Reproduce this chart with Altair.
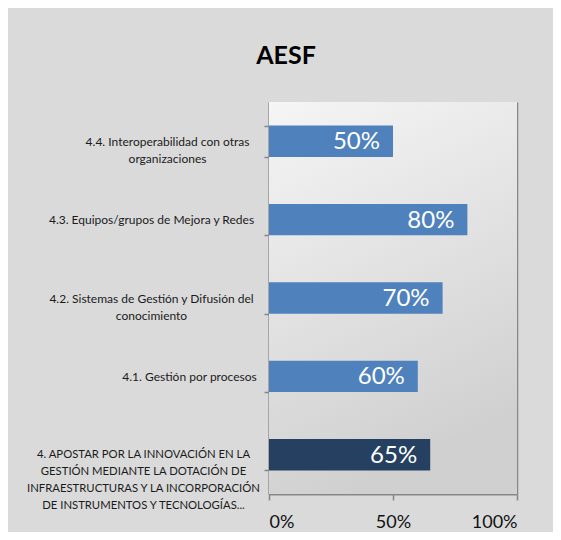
import altair as alt
import pandas as pd

categories = [
    "4.4. Interoperabilidad con otras|organizaciones",
    "4.3. Equipos/grupos de Mejora y Redes",
    "4.2. Sistemas de Gestión y Difusión del|conocimiento",
    "4.1. Gestión por procesos",
    "4. APOSTAR POR LA INNOVACIÓN EN LA|GESTIÓN MEDIANTE LA DOTACIÓN DE|INFRAESTRUCTURAS Y LA INCORPORACIÓN|DE INSTRUMENTOS Y TECNOLOGÍAS...",
]
values = [0.50, 0.80, 0.70, 0.60, 0.65]
x_ticks = [0, 0.5, 1.0]
title = "AESF"

df = pd.DataFrame({"cat": categories, "val": values})
main_cat = categories[-1]

# per-label padding so each centred label block ends near the axis
pads = [97, 113, 113, 75, 121]
pad_cond = {
    "condition": [{"test": f"datum.value == {c!r}", "value": p} for c, p in zip(categories, pads)],
    "value": 100,
}
size_cond = {
    "condition": {"test": f"datum.value == {main_cat!r}", "value": 11.3},
    "value": 12,
}

y_enc = alt.Y(
    "cat:N",
    sort=categories,
    title=None,
    scale=alt.Scale(paddingInner=0.6, paddingOuter=0.3),
    axis=alt.Axis(
        labelExpr="split(datum.label, '|')",
        labelAlign="center",
        labelBaseline="middle",
        labelPadding=pad_cond,
        labelFont="Lato",
        labelFontSize=size_cond,
        labelLineHeight=17,
        labelColor="#1a1a1a",
        labelLimit=400,
        tickBand="extent",
        tickSize=5,
        tickColor="#878787",
        tickWidth=1.5,
        domainColor="#878787",
        domainWidth=2,
        grid=False,
    ),
)

x_scale = alt.Scale(domain=[0, 1], nice=False)

x_enc = alt.X(
    "val:Q",
    title=None,
    scale=x_scale,
    axis=alt.Axis(
        values=x_ticks,
        format="%",
        labelFont="Lato",
        labelFontSize=18,
        labelColor="#111111",
        labelPadding=13,
        tickSize=6,
        tickColor="#878787",
        tickWidth=1.5,
        domainColor="#878787",
        domainWidth=2,
        grid=True,
        gridColor="#878787",
        gridWidth=1.5,
    ),
)

plot_bg = alt.Chart(alt.Data(values=[{}])).mark_rect(
    fill={
        "gradient": "linear",
        "x1": 0, "y1": 0, "x2": 0.3, "y2": 1,
        "stops": [
            {"offset": 0, "color": "#f5f5f5"},
            {"offset": 1, "color": "#d0d0d0"},
        ],
    }
).encode(x=alt.datum(0, scale=x_scale), x2=alt.datum(1))

bars = alt.Chart(df).mark_bar().encode(
    y=y_enc,
    x=x_enc,
    color=alt.condition(
        alt.datum.cat == main_cat, alt.value("#254061"), alt.value("#4f81bd")
    ),
)

labels = alt.Chart(df).mark_text(
    align="right", baseline="middle", dx=-13, dy=1, color="white", font="Lato", fontSize=24
).encode(
    y=alt.Y("cat:N", sort=categories),
    x=alt.X("val:Q"),
    text=alt.Text("val:Q", format=".0%"),
)

chart = (
    alt.layer(plot_bg, bars, labels)
    .properties(
        width=248,
        height=392,
        autosize=alt.AutoSizeParams(type="none"),
        padding={"left": 261, "top": 94, "right": 36, "bottom": 38},
        background="#dadada",
        title=alt.TitleParams(
            text=title,
            font="Lato",
            fontSize=25,
            fontWeight="bold",
            color="#000000",
            anchor="middle",
            dx=-107,
            offset=27,
        ),
    )
    .configure_view(stroke=None)
)

chart.save("out.html", embed_options={"renderer": "svg", "actions": False})
